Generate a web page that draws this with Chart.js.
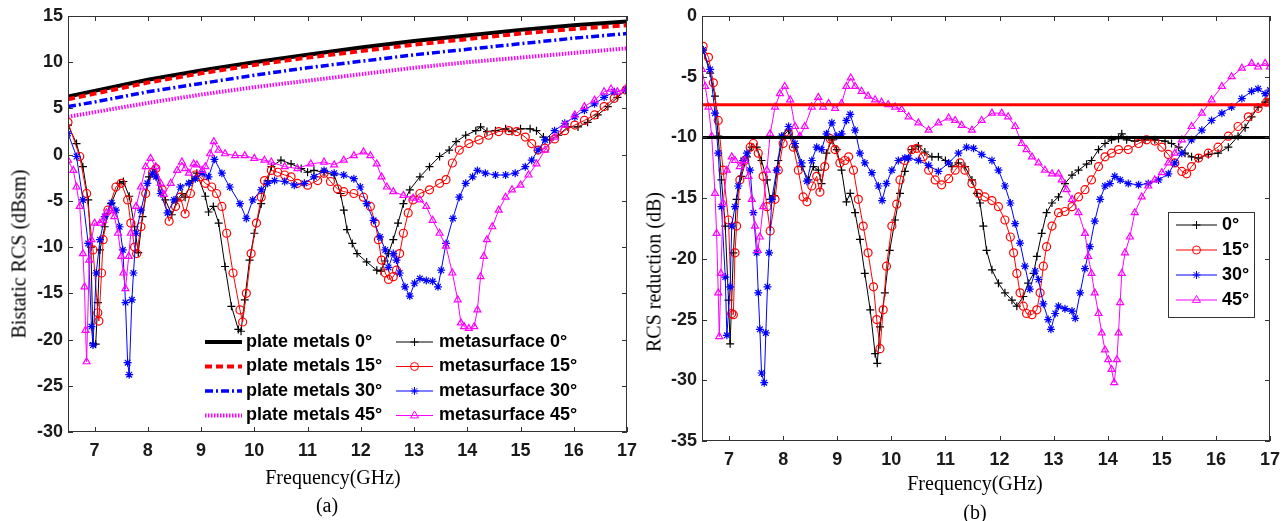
<!DOCTYPE html>
<html>
<head>
<meta charset="utf-8">
<script src="https://cdn.jsdelivr.net/npm/chart.js@4/dist/chart.umd.min.js"></script>
<style>
  body { margin: 0; width: 1288px; height: 521px; position: relative; background: #fff; overflow: hidden; }
  canvas { position: absolute; top: 0; }
  .t { position: absolute; font-family: 'Liberation Serif', 'Times New Roman', serif; font-size: 20px; color: #000; white-space: nowrap; transform: translate(-50%, -50%); }
  .rot { transform: translate(-50%, -50%) rotate(-90deg); }
</style>
</head>
<body>
<canvas id="ca" width="645" height="521" style="left:0"></canvas>
<canvas id="cb" width="643" height="521" style="left:645px"></canvas>
<div class="t rot" style="left:19px; top:254px">Bistatic RCS (dBsm)</div>
<div class="t" style="left:333px; top:477px">Frequency(GHz)</div>
<div class="t" style="left:327px; top:505px">(a)</div>
<div class="t rot" style="left:654px; top:272px">RCS reduction (dB)</div>
<div class="t" style="left:975px; top:483px">Frequency(GHz)</div>
<div class="t" style="left:975px; top:512px">(b)</div>
<script>
// ---- data: panel (a), bistatic RCS in dBsm ----
const xTicks = [7, 8, 9, 10, 11, 12, 13, 14, 15, 16, 17];

const plateFreq = [6.5, 7, 8, 9, 10, 11, 12, 13, 14, 15, 16, 17];
const plate0 = [6.3, 6.9, 8.1, 9.1, 10.0, 10.8, 11.6, 12.3, 12.9, 13.5, 14.0, 14.4];
const plate15 = [6.0, 6.6, 7.8, 8.8, 9.7, 10.5, 11.2, 11.9, 12.5, 13.1, 13.6, 14.0];
const plate30 = [5.2, 5.7, 6.8, 7.7, 8.6, 9.4, 10.1, 10.8, 11.4, 12.0, 12.6, 13.1];
const plate45 = [4.1, 4.6, 5.6, 6.5, 7.3, 8.0, 8.7, 9.4, 10.0, 10.5, 11.0, 11.5];

const fA0 = [6.50,6.66,6.78,6.88,6.93,6.97,7.02,7.06,7.10,7.19,
  7.31,7.47,7.54,7.65,7.75,7.82,7.90,8.02,8.12,8.33,
  8.45,8.55,8.64,8.70,8.83,8.92,9.08,9.14,9.23,9.33,
  9.45,9.57,9.70,9.75,9.82,9.91,10.00,10.13,10.25,10.32,
  10.50,10.69,10.88,11.00,11.12,11.31,11.50,11.62,11.68,11.74,
  11.84,11.93,12.11,12.30,12.38,12.45,12.52,12.61,12.70,12.80,
  12.92,13.11,13.29,13.48,13.66,13.79,13.97,14.16,14.25,14.37,
  14.53,14.72,14.84,15.00,15.18,15.30,15.43,15.55,15.71,15.89,
  16.08,16.26,16.45,16.64,16.82,16.98];
const rcsA0 = [3.2,1.2,-1.3,-4.9,-10.0,-20.4,-20.5,-16.0,-10.3,-7.8,
  -5.3,-3.1,-2.9,-4.5,-7.8,-10.6,-6.7,-2.4,-1.5,-4.9,
  -6.5,-4.9,-4.2,-4.6,-2.8,-2.0,-4.5,-6.2,-5.6,-7.4,
  -12.1,-16.4,-18.9,-19.1,-15.7,-11.4,-8.5,-5.3,-2.8,-1.3,
  -0.6,-1.0,-1.5,-1.9,-1.7,-1.9,-2.2,-4.2,-6.0,-8.1,
  -9.6,-10.7,-11.6,-12.5,-12.6,-11.5,-10.7,-9.2,-7.4,-5.3,
  -3.8,-2.4,-1.3,-0.2,0.5,1.4,2.1,2.6,3.0,2.5,
  2.6,2.8,2.5,2.8,2.8,2.6,1.9,1.6,2.1,3.0,
  3.0,3.5,4.3,5.2,6.2,7.0];

const fA15 = [6.50,6.72,6.85,6.97,7.06,7.08,7.13,7.16,7.25,7.40,
  7.50,7.62,7.68,7.75,7.79,7.87,7.96,8.09,8.15,8.27,
  8.40,8.52,8.61,8.70,8.80,8.89,8.98,9.08,9.20,9.29,
  9.39,9.48,9.60,9.73,9.78,9.85,9.94,10.04,10.13,10.19,
  10.32,10.44,10.57,10.69,10.81,11.00,11.19,11.31,11.43,11.56,
  11.68,11.87,12.05,12.18,12.27,12.33,12.39,12.46,12.52,12.61,
  12.67,12.73,12.80,12.89,12.98,13.11,13.29,13.48,13.60,13.72,
  13.85,14.03,14.22,14.40,14.59,14.78,14.93,15.09,15.21,15.33,
  15.46,15.64,15.83,16.02,16.20,16.39,16.57,16.76,16.98];
const rcsA15 = [3.5,-0.2,-4.2,-10.3,-17.1,-18.0,-12.8,-9.2,-6.0,-3.5,
  -3.1,-4.9,-7.4,-10.0,-10.7,-7.8,-4.2,-1.9,-1.5,-3.8,
  -7.2,-5.6,-4.6,-6.4,-4.2,-2.2,-2.4,-3.1,-3.5,-4.2,
  -5.6,-8.5,-12.8,-16.8,-18.1,-15.0,-10.7,-7.4,-4.6,-2.8,
  -1.7,-1.9,-2.2,-2.4,-3.1,-3.3,-2.8,-2.0,-2.9,-3.7,
  -4.0,-4.2,-4.6,-5.6,-7.4,-9.2,-11.4,-12.8,-13.5,-13.2,
  -12.5,-10.7,-8.5,-6.3,-4.9,-4.2,-3.8,-3.1,-2.7,-0.9,
  0.5,1.2,1.6,2.1,2.5,2.6,2.5,1.9,1.2,0.5,
  0.7,1.7,2.6,3.2,3.7,4.3,5.2,6.1,7.0];

const fA30 = [6.50,6.66,6.78,6.88,6.94,6.97,7.03,7.10,7.19,7.32,
  7.40,7.47,7.53,7.58,7.62,7.65,7.70,7.73,7.78,7.87,
  7.99,8.09,8.15,8.24,8.37,8.49,8.61,8.77,8.89,9.02,
  9.14,9.25,9.39,9.54,9.73,9.85,9.97,10.13,10.25,10.38,
  10.57,10.75,10.94,11.12,11.31,11.50,11.68,11.87,11.99,12.11,
  12.24,12.36,12.46,12.52,12.61,12.67,12.73,12.83,12.92,13.01,
  13.11,13.23,13.35,13.45,13.51,13.60,13.73,13.85,13.97,14.10,
  14.19,14.34,14.53,14.72,14.90,15.09,15.21,15.33,15.46,15.64,
  15.83,16.02,16.20,16.39,16.57,16.76,16.98];
const rcsA30 = [2.3,-0.2,-4.9,-9.6,-18.6,-20.6,-12.8,-9.2,-6.7,-5.2,
  -6.0,-7.8,-10.3,-16.0,-22.5,-23.8,-15.7,-12.8,-8.5,-6.0,
  -3.1,-2.0,-2.4,-4.2,-6.3,-4.9,-3.5,-3.1,-2.6,-2.0,
  -2.4,-0.5,-2.0,-3.5,-5.3,-6.9,-4.9,-3.8,-3.1,-2.8,
  -2.9,-3.3,-3.1,-2.4,-1.7,-2.0,-2.2,-2.6,-3.5,-5.3,
  -7.1,-8.9,-10.3,-12.2,-10.7,-11.4,-12.8,-14.3,-15.3,-13.9,
  -13.4,-13.6,-13.7,-14.3,-12.5,-9.6,-6.9,-4.6,-3.1,-2.4,
  -1.7,-2.0,-2.2,-2.2,-2.0,-1.3,-0.6,0.5,1.6,2.6,
  3.4,4.1,4.8,5.5,6.2,6.8,7.0];

const fA45 = [6.50,6.60,6.66,6.72,6.78,6.81,6.83,6.85,6.90,6.94,
  7.00,7.10,7.16,7.22,7.31,7.37,7.44,7.50,7.54,7.58,
  7.64,7.68,7.78,7.87,7.96,8.05,8.15,8.24,8.30,8.43,
  8.55,8.64,8.70,8.77,8.86,8.92,9.02,9.08,9.17,9.24,
  9.33,9.45,9.64,9.82,10.00,10.19,10.32,10.57,10.81,11.06,
  11.31,11.50,11.68,11.87,12.05,12.18,12.30,12.39,12.49,12.61,
  12.80,12.98,13.11,13.23,13.35,13.48,13.60,13.72,13.82,13.88,
  13.94,14.03,14.13,14.19,14.25,14.31,14.37,14.47,14.59,14.72,
  14.84,15.00,15.15,15.30,15.46,15.64,15.83,16.02,16.20,16.39,
  16.57,16.70,16.82,16.98];
const rcsA45 = [-0.6,-1.7,-3.5,-5.6,-10.7,-14.3,-19.0,-22.4,-11.4,-9.2,
  -7.4,-7.4,-7.1,-6.3,-6.0,-6.7,-8.5,-11.0,-12.8,-14.5,
  -11.0,-8.5,-5.6,-3.5,-1.3,-0.4,-1.3,-3.1,-4.3,-3.1,
  -1.7,-0.8,-1.5,-2.0,-1.0,-1.1,-1.7,-1.3,0.1,1.4,
  0.5,0.1,-0.1,-0.1,-0.4,-0.6,-0.8,-1.3,-1.5,-1.0,
  -0.8,-1.1,-0.6,-0.1,0.3,-0.1,-1.0,-2.4,-3.5,-4.0,
  -4.4,-4.7,-4.9,-5.6,-7.1,-8.5,-9.9,-12.8,-15.7,-18.2,
  -18.6,-18.8,-18.6,-16.8,-13.2,-11.0,-9.2,-7.8,-6.0,-4.6,
  -3.8,-3.3,-2.2,-1.0,0.5,1.9,3.2,4.3,5.2,5.9,
  6.8,7.1,6.8,7.1];

// ---- data: panel (b), RCS reduction in dB ----
const refFreq = [6.5, 17];
const refRed = [-7.3, -7.3];
const refBlack = [-10, -10];

const fB0 = [6.52,6.65,6.74,6.80,6.86,6.93,6.99,7.02,7.08,7.14,
  7.23,7.33,7.42,7.51,7.60,7.70,7.76,7.83,7.91,8.00,
  8.10,8.22,8.34,8.47,8.56,8.65,8.71,8.80,8.90,8.99,
  9.08,9.17,9.24,9.33,9.42,9.51,9.61,9.70,9.74,9.79,
  9.88,9.97,10.07,10.16,10.25,10.38,10.50,10.62,10.75,10.87,
  11.00,11.12,11.24,11.36,11.49,11.58,11.64,11.70,11.76,11.86,
  11.98,12.10,12.23,12.32,12.44,12.53,12.63,12.69,12.78,12.87,
  12.97,13.09,13.21,13.34,13.46,13.61,13.70,13.83,13.95,14.07,
  14.20,14.26,14.35,14.50,14.69,14.87,15.06,15.18,15.31,15.43,
  15.55,15.68,15.86,16.04,16.23,16.41,16.54,16.66,16.78,16.91,
  17.00];
const redB0 = [-2.8,-4.7,-6.6,-9.9,-13.5,-17.3,-23.4,-27.0,-19.5,-15.1,
  -13.2,-11.6,-10.8,-10.8,-11.9,-13.5,-15.1,-14.8,-11.9,-9.9,
  -9.4,-10.8,-12.4,-13.5,-12.4,-12.7,-13.8,-11.3,-10.2,-11.0,
  -12.7,-15.3,-14.6,-16.2,-18.4,-21.2,-24.2,-27.8,-28.6,-25.6,
  -22.8,-19.3,-16.8,-14.6,-12.8,-11.0,-10.7,-11.2,-11.6,-11.6,
  -11.9,-12.4,-12.1,-12.4,-13.5,-14.6,-15.4,-17.3,-19.3,-20.9,
  -22.0,-22.8,-23.4,-23.9,-23.1,-22.0,-21.2,-19.8,-17.9,-16.2,
  -15.4,-14.9,-13.8,-13.1,-12.7,-12.2,-11.9,-11.0,-10.5,-10.2,
  -10.1,-9.7,-10.2,-10.3,-10.2,-10.2,-10.3,-10.5,-10.8,-11.3,
  -11.6,-11.7,-11.4,-11.3,-10.8,-9.9,-9.2,-8.3,-7.5,-7.1,
  -6.9];

const fB15 = [6.52,6.62,6.71,6.80,6.89,6.99,7.05,7.08,7.11,7.14,
  7.20,7.29,7.39,7.45,7.54,7.63,7.70,7.76,7.85,7.91,
  8.00,8.10,8.19,8.28,8.37,8.44,8.53,8.62,8.68,8.77,
  8.87,8.96,9.05,9.14,9.21,9.30,9.39,9.48,9.57,9.67,
  9.73,9.79,9.85,9.91,10.01,10.10,10.16,10.25,10.38,10.47,
  10.59,10.69,10.81,10.93,11.06,11.18,11.27,11.36,11.49,11.61,
  11.73,11.86,11.98,12.10,12.20,12.26,12.32,12.38,12.44,12.50,
  12.60,12.69,12.75,12.81,12.87,12.97,13.09,13.21,13.34,13.46,
  13.58,13.70,13.83,13.95,14.07,14.20,14.38,14.57,14.72,14.87,
  15.00,15.12,15.24,15.37,15.46,15.55,15.68,15.86,16.04,16.23,
  16.41,16.60,16.78,16.94,17.00];
const redB15 = [-2.5,-3.4,-5.5,-8.6,-12.7,-16.8,-24.5,-24.6,-19.5,-17.3,
  -13.5,-11.9,-10.8,-10.5,-11.3,-13.2,-15.7,-17.7,-15.1,-12.7,
  -10.5,-9.7,-10.8,-12.7,-14.9,-15.3,-14.0,-13.2,-14.5,-12.4,
  -10.1,-11.0,-12.1,-11.9,-11.6,-12.7,-15.1,-17.3,-19.5,-22.3,
  -25.0,-27.4,-24.2,-20.6,-17.3,-15.5,-13.5,-11.9,-11.0,-10.9,
  -11.6,-12.7,-13.5,-13.9,-13.4,-12.7,-12.1,-12.7,-13.8,-14.6,
  -14.9,-15.2,-15.7,-16.8,-18.2,-19.5,-21.2,-22.8,-23.9,-24.5,
  -24.6,-24.2,-22.8,-20.6,-19.0,-17.3,-16.2,-16.1,-15.7,-14.9,
  -14.3,-13.5,-12.4,-11.6,-11.3,-11.0,-11.0,-10.5,-10.2,-10.3,
  -10.8,-11.4,-12.1,-12.8,-13.0,-12.4,-11.7,-11.3,-10.8,-9.9,
  -9.1,-8.3,-7.6,-7.1,-6.8];

const fB30 = [6.52,6.65,6.74,6.80,6.86,6.93,6.96,7.02,7.05,7.11,
  7.17,7.26,7.33,7.39,7.45,7.51,7.54,7.57,7.60,7.65,
  7.68,7.71,7.74,7.79,7.88,7.97,8.10,8.22,8.34,8.44,
  8.53,8.62,8.71,8.80,8.90,8.99,9.08,9.17,9.24,9.33,
  9.42,9.51,9.64,9.76,9.83,9.91,10.01,10.13,10.25,10.32,
  10.50,10.69,10.87,11.06,11.24,11.39,11.52,11.67,11.86,11.98,
  12.10,12.20,12.29,12.38,12.47,12.56,12.66,12.72,12.81,12.90,
  12.95,13.03,13.09,13.21,13.34,13.40,13.49,13.58,13.67,13.76,
  13.86,13.95,14.04,14.13,14.23,14.38,14.57,14.75,14.94,15.12,
  15.24,15.37,15.55,15.74,15.92,16.11,16.29,16.48,16.66,16.78,
  16.91,17.00];
const redB30 = [-2.8,-4.4,-8.0,-11.3,-15.7,-21.5,-26.3,-22.3,-17.3,-15.7,
  -14.0,-11.9,-11.3,-12.7,-16.2,-19.5,-22.8,-25.8,-29.4,-30.2,
  -26.1,-22.3,-19.5,-15.1,-12.7,-9.9,-9.1,-10.5,-12.1,-13.6,
  -11.9,-10.8,-11.0,-9.7,-8.8,-9.9,-9.7,-8.6,-8.1,-9.4,
  -11.3,-12.1,-12.9,-14.0,-15.2,-13.8,-12.7,-11.9,-11.7,-11.7,
  -11.9,-12.3,-12.8,-12.1,-11.3,-10.8,-10.9,-11.4,-11.9,-12.7,
  -14.0,-15.4,-17.1,-18.7,-20.6,-22.5,-21.0,-21.7,-23.7,-25.0,
  -25.8,-24.5,-23.9,-24.1,-24.3,-24.9,-22.8,-20.8,-19.0,-16.9,
  -15.1,-14.0,-13.8,-13.2,-13.5,-13.8,-13.9,-13.8,-13.5,-13.0,
  -12.1,-11.3,-10.2,-9.4,-8.6,-8.0,-7.5,-6.8,-6.2,-6.0,
  -6.4,-6.1];

const fB45 = [6.50,6.56,6.62,6.68,6.74,6.77,6.80,6.82,6.85,6.89,
  6.96,7.05,7.11,7.20,7.29,7.36,7.42,7.48,7.53,7.57,
  7.63,7.70,7.76,7.85,7.94,8.03,8.13,8.22,8.31,8.40,
  8.53,8.65,8.74,8.84,8.96,9.08,9.17,9.25,9.33,9.45,
  9.57,9.70,9.82,9.94,10.07,10.19,10.32,10.50,10.69,10.87,
  11.06,11.18,11.30,11.49,11.67,11.86,12.04,12.16,12.29,12.41,
  12.50,12.60,12.72,12.84,12.97,13.09,13.15,13.24,13.34,13.46,
  13.58,13.64,13.70,13.76,13.83,13.89,13.95,14.01,14.07,14.12,
  14.17,14.20,14.23,14.26,14.32,14.41,14.50,14.63,14.75,14.87,
  15.00,15.12,15.24,15.37,15.55,15.74,15.92,16.11,16.29,16.48,
  16.66,16.78,16.91,17.00];
const redB45 = [-4.4,-5.8,-7.5,-9.9,-14.6,-17.9,-22.8,-26.4,-21.2,-15.4,
  -12.7,-11.6,-11.9,-12.4,-11.9,-13.2,-15.1,-17.3,-19.3,-18.2,
  -15.7,-12.7,-9.7,-7.5,-6.4,-5.8,-6.9,-9.1,-9.9,-9.1,
  -7.5,-6.7,-7.5,-7.2,-7.6,-7.2,-5.8,-5.1,-5.8,-6.2,
  -6.6,-6.9,-7.1,-7.3,-7.5,-7.7,-8.3,-8.8,-9.4,-8.8,
  -8.4,-8.6,-9.0,-9.4,-8.6,-8.0,-8.0,-8.3,-9.1,-10.5,
  -11.0,-11.6,-12.1,-12.7,-13.0,-13.0,-13.5,-14.3,-15.1,-16.2,
  -17.9,-19.8,-21.2,-22.8,-24.5,-26.1,-27.5,-28.3,-29.1,-30.2,
  -28.3,-26.1,-23.6,-21.2,-19.5,-18.2,-16.2,-14.9,-14.0,-13.5,
  -12.9,-12.1,-11.3,-10.2,-9.1,-8.0,-6.9,-5.8,-5.0,-4.3,
  -3.9,-4.2,-3.9,-4.2];

// ---- styling helpers ----
const BLACK = '#000000', RED = '#ff0000', BLUE = '#0000ff', MAGENTA = '#ff00ff';
const tickFont = { family: "'Liberation Sans Narrow', 'Arial Narrow', 'Liberation Sans', sans-serif", size: 18, weight: 'bold' };
const NONE = 'rgba(0,0,0,0)';

const series = (label, fs, vs, color, marker, extra) => Object.assign({
  label,
  data: fs.map((f, i) => ({ x: f, y: vs[i] })),
  borderColor: color,
  backgroundColor: NONE,
  borderWidth: 1,
  pointStyle: marker || false,
  pointRadius: marker ? 4 : 0,
  pointBorderColor: color,
  pointBackgroundColor: NONE,
  pointBorderWidth: 1.2,
  tension: 0,
  fill: false
}, extra || {});

const drawMarker = (ctx, style, x, y, r) => {
  ctx.beginPath();
  if (style === 'circle') {
    ctx.arc(x, y, r, 0, Math.PI * 2);
  } else if (style === 'triangle') {
    ctx.moveTo(x, y - r * 1.15); ctx.lineTo(x + r, y + r * 0.6); ctx.lineTo(x - r, y + r * 0.6); ctx.closePath();
  } else if (style === 'cross' || style === 'star') {
    ctx.moveTo(x - r, y); ctx.lineTo(x + r, y); ctx.moveTo(x, y - r); ctx.lineTo(x, y + r);
    if (style === 'star') {
      const d = r * 0.7;
      ctx.moveTo(x - d, y - d); ctx.lineTo(x + d, y + d); ctx.moveTo(x - d, y + d); ctx.lineTo(x + d, y - d);
    }
  }
  ctx.stroke();
};

// inward ticks on all four sides + box, like the original figure
const frameTicks = {
  id: 'frameTicks',
  afterDatasetsDraw(chart) {
    const { ctx, chartArea: a, scales: { x, y } } = chart;
    const tl = 5;
    ctx.save();
    ctx.strokeStyle = '#333';
    ctx.lineWidth = 1;
    ctx.strokeRect(a.left + 0.5, a.top + 0.5, a.width - 1, a.height - 1);
    ctx.beginPath();
    x.ticks.forEach(t => {
      const px = Math.round(x.getPixelForValue(t.value)) + 0.5;
      ctx.moveTo(px, a.bottom); ctx.lineTo(px, a.bottom - tl);
      ctx.moveTo(px, a.top); ctx.lineTo(px, a.top + tl);
    });
    y.ticks.forEach(t => {
      const py = Math.round(y.getPixelForValue(t.value)) + 0.5;
      ctx.moveTo(a.left, py); ctx.lineTo(a.left + tl, py);
      ctx.moveTo(a.right, py); ctx.lineTo(a.right - tl, py);
    });
    ctx.stroke();
    ctx.restore();
  }
};

// legend drawn at fixed spots inside the plot
const keyPlugin = (entries, box) => ({
  id: 'keyBox',
  afterDraw(chart) {
    const ctx = chart.ctx;
    ctx.save();
    if (box) {
      ctx.fillStyle = '#fff';
      ctx.fillRect(box.x, box.y, box.w, box.h);
      ctx.strokeStyle = '#333';
      ctx.lineWidth = 1;
      ctx.strokeRect(box.x + 0.5, box.y + 0.5, box.w, box.h);
    }
    ctx.font = `bold ${tickFont.size}px ${tickFont.family}`;
    ctx.textBaseline = 'middle';
    entries.forEach(e => {
      const ds = chart.data.datasets[e.ds];
      ctx.strokeStyle = ds.borderColor;
      ctx.lineWidth = ds.borderWidth;
      ctx.setLineDash(ds.borderDash || []);
      ctx.beginPath();
      ctx.moveTo(e.x0, e.y); ctx.lineTo(e.x1, e.y);
      ctx.stroke();
      ctx.setLineDash([]);
      if (ds.pointStyle) {
        ctx.lineWidth = 1;
        drawMarker(ctx, ds.pointStyle, (e.x0 + e.x1) / 2, e.y, 4);
      }
      ctx.fillStyle = '#000';
      ctx.fillText(ds.label, e.tx, e.y);
    });
    ctx.restore();
  }
});

const baseOptions = (yMin, yMax, yWidth, xHeight, padRight) => ({
  responsive: false,
  animation: false,
  devicePixelRatio: 1,
  events: [],
  layout: { padding: { left: 0, right: padRight, top: 16, bottom: 0 } },
  plugins: { legend: { display: false }, tooltip: { enabled: false } },
  scales: {
    x: {
      type: 'linear', min: 6.5, max: 17,
      afterBuildTicks: s => { s.ticks = xTicks.map(v => ({ value: v })); },
      afterFit: s => { s.height = xHeight; },
      grid: { display: false, drawTicks: false },
      border: { display: false },
      ticks: { font: tickFont, color: '#1a1a1a', padding: 8, maxRotation: 0 }
    },
    y: {
      min: yMin, max: yMax,
      afterFit: s => { s.width = yWidth; },
      grid: { display: false, drawTicks: false },
      border: { display: false },
      ticks: { stepSize: 5, font: tickFont, color: '#1a1a1a', padding: 5 }
    }
  }
});

const withOrder = list => list.map((d, i) => Object.assign(d, { order: -i }));

// ---- panel (a) ----
const dsA = withOrder([
  series('plate metals 0°', plateFreq, plate0, BLACK, null, { borderWidth: 4 }),
  series('plate metals 15°', plateFreq, plate15, RED, null, { borderWidth: 4, borderDash: [7, 4] }),
  series('plate metals 30°', plateFreq, plate30, BLUE, null, { borderWidth: 3.5, borderDash: [8, 3, 2, 3] }),
  series('plate metals 45°', plateFreq, plate45, MAGENTA, null, { borderWidth: 4, borderDash: [1.5, 1.5] }),
  series('metasurface 0°', fA0, rcsA0, BLACK, 'cross'),
  series('metasurface 15°', fA15, rcsA15, RED, 'circle'),
  series('metasurface 30°', fA30, rcsA30, BLUE, 'star'),
  series('metasurface 45°', fA45, rcsA45, MAGENTA, 'triangle')
]);

const keyA = [0, 1, 2, 3].map(i => ({ ds: i, x0: 205, x1: 242, tx: 246, y: 342 + i * 24.5 }))
  .concat([4, 5, 6, 7].map(i => ({ ds: i, x0: 396, x1: 433, tx: 439, y: 342 + (i - 4) * 24.5 })));

new Chart(document.getElementById('ca'), {
  type: 'line',
  data: { datasets: dsA },
  options: baseOptions(-30, 15, 68, 89, 12),
  plugins: [frameTicks, keyPlugin(keyA, null)]
});

// ---- panel (b) ----
const dsB = withOrder([
  series('0°', fB0, redB0, BLACK, 'cross'),
  series('15°', fB15, redB15, RED, 'circle'),
  series('30°', fB30, redB30, BLUE, 'star'),
  series('45°', fB45, redB45, MAGENTA, 'triangle'),
  series('', refFreq, refRed, RED, null, { borderWidth: 3 }),
  series('', refFreq, refBlack, BLACK, null, { borderWidth: 3 })
]);

const keyB = [0, 1, 2, 3].map(i => ({ ds: i, x0: 531, x1: 572, tx: 577, y: 225 + i * 25 }));

new Chart(document.getElementById('cb'), {
  type: 'line',
  data: { datasets: dsB },
  options: baseOptions(-35, 0, 57, 80, 18),
  plugins: [frameTicks, keyPlugin(keyB, { x: 523, y: 212, w: 86, h: 105 })]
});
</script>
</body>
</html>
